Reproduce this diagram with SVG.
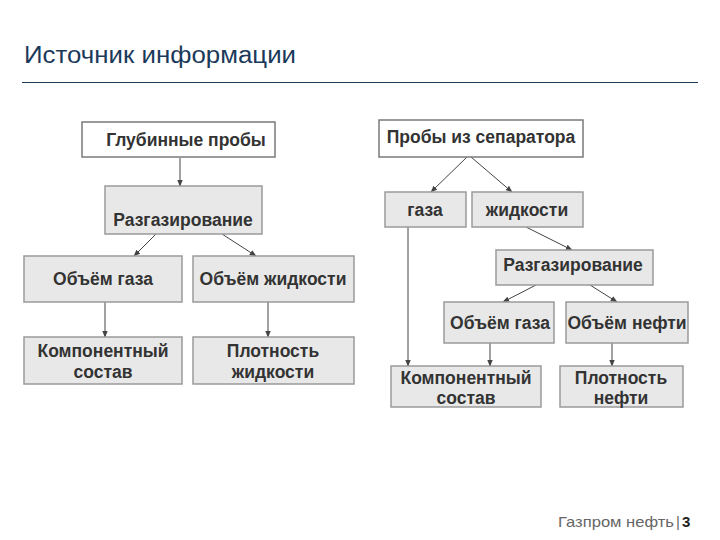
<svg xmlns="http://www.w3.org/2000/svg" width="720" height="540" viewBox="0 0 720 540">
<style>
.bw{fill:#ffffff;stroke:#7a7a7a;stroke-width:1.5}
.bg{fill:#e8e8e8;stroke:#9a9a9a;stroke-width:1.5}
.t{font-family:"Liberation Sans",Arial,sans-serif;font-weight:bold;font-size:17.5px;fill:#333333;text-anchor:middle}
.c{stroke:#444444;stroke-width:1;fill:none;marker-end:url(#ah)}
</style>
<defs>
<marker id="ah" viewBox="0 0 10 10" refX="9" refY="5" markerWidth="7" markerHeight="7" orient="auto" markerUnits="userSpaceOnUse">
<path d="M0,1 L10,5 L0,9 Z" fill="#444444"/>
</marker>
</defs>
<rect width="720" height="540" fill="#ffffff"/>
<text x="24" y="63" font-family="Liberation Sans,Arial,sans-serif" font-size="23" fill="#1b3a5a" textLength="272" lengthAdjust="spacingAndGlyphs">Источник информации</text>
<line x1="22" y1="82.5" x2="698" y2="82.5" stroke="#1b3a5a" stroke-width="1"/>

<g id="connectors">
<line class="c" x1="180" y1="158" x2="180" y2="186"/>
<line class="c" x1="156" y1="234" x2="134" y2="256"/>
<line class="c" x1="222" y1="234" x2="256" y2="256"/>
<line class="c" x1="105" y1="302" x2="105" y2="337"/>
<line class="c" x1="268" y1="302" x2="268" y2="337"/>
<line class="c" x1="467" y1="157" x2="431" y2="192"/>
<line class="c" x1="471" y1="157" x2="512" y2="192"/>
<line class="c" x1="408" y1="227" x2="408" y2="366"/>
<line class="c" x1="526" y1="227" x2="572" y2="250"/>
<line class="c" x1="536" y1="285" x2="503" y2="302"/>
<line class="c" x1="590" y1="285" x2="617" y2="302"/>
<line class="c" x1="490" y1="343" x2="490" y2="366"/>
<line class="c" x1="612" y1="343" x2="612" y2="366"/>
</g>

<g id="n-glub"><rect class="bw" x="82" y="122" width="193" height="35"/><text class="t" x="186" y="146">Глубинные пробы</text></g>
<g id="n-razg1"><rect class="bg" x="105" y="186" width="157" height="48"/><text class="t" x="183" y="226">Разгазирование</text></g>
<g id="n-vgas1"><rect class="bg" x="24" y="256" width="158" height="46"/><text class="t" x="103" y="285">Объём газа</text></g>
<g id="n-vliq"><rect class="bg" x="193" y="256" width="161" height="46"/><text class="t" x="273" y="285">Объём жидкости</text></g>
<g id="n-comp1"><rect class="bg" x="24" y="337" width="158" height="47"/><text class="t" x="103" y="357">Компонентный</text><text class="t" x="103" y="378">состав</text></g>
<g id="n-dliq"><rect class="bg" x="193" y="337" width="161" height="47"/><text class="t" x="273" y="357">Плотность</text><text class="t" x="273" y="378">жидкости</text></g>

<g id="n-sep"><rect class="bw" x="379" y="120" width="204" height="37"/><text class="t" x="481" y="143">Пробы из сепаратора</text></g>
<g id="n-gaza"><rect class="bg" x="385" y="192" width="81" height="35"/><text class="t" x="425" y="216">газа</text></g>
<g id="n-zhid"><rect class="bg" x="472" y="192" width="111" height="35"/><text class="t" x="527" y="216">жидкости</text></g>
<g id="n-razg2"><rect class="bg" x="496" y="250" width="157" height="35"/><text class="t" x="573" y="271">Разгазирование</text></g>
<g id="n-vgas2"><rect class="bg" x="444" y="302" width="110" height="41"/><text class="t" x="500" y="329">Объём газа</text></g>
<g id="n-voil"><rect class="bg" x="566" y="302" width="122" height="41"/><text class="t" x="627" y="329">Объём нефти</text></g>
<g id="n-comp2"><rect class="bg" x="391" y="366" width="150" height="41"/><text class="t" x="466" y="384">Компонентный</text><text class="t" x="466" y="404">состав</text></g>
<g id="n-doil"><rect class="bg" x="560" y="366" width="123" height="41"/><text class="t" x="621" y="384">Плотность</text><text class="t" x="621" y="404">нефти</text></g>

<text x="558" y="527" font-family="Liberation Sans,Arial,sans-serif" font-size="15" fill="#666666" textLength="116" lengthAdjust="spacingAndGlyphs">Газпром нефть</text>
<text x="676" y="527" font-family="Liberation Sans,Arial,sans-serif" font-size="15" fill="#666666">|</text>
<text x="682" y="527" font-family="Liberation Sans,Arial,sans-serif" font-size="15" font-weight="bold" fill="#222222">3</text>
</svg>
